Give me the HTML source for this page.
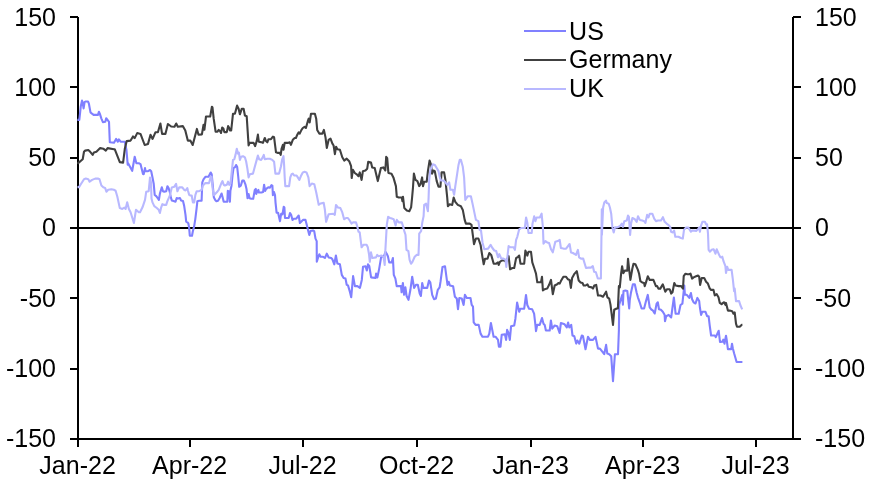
<!DOCTYPE html>
<html><head><meta charset="utf-8"><style>
html,body{margin:0;padding:0;background:#fff;overflow:hidden;}
svg{display:block;will-change:transform;}
text{font-family:"Liberation Sans", Arial, sans-serif;font-size:25px;fill:#000;}
</style></head><body>
<svg width="871" height="482" viewBox="0 0 871 482">
<g fill="#000" stroke="none">
<rect x="77" y="17" width="2" height="423"/>
<rect x="792" y="17" width="2" height="423"/>
<rect x="77" y="438" width="717" height="2"/>
<rect x="79" y="227" width="713" height="2"/>
<rect x="70" y="16" width="8" height="2"/>
<rect x="793" y="16" width="8" height="2"/>
<rect x="70" y="86" width="8" height="2"/>
<rect x="793" y="86" width="8" height="2"/>
<rect x="70" y="157" width="8" height="2"/>
<rect x="793" y="157" width="8" height="2"/>
<rect x="70" y="227" width="8" height="2"/>
<rect x="793" y="227" width="8" height="2"/>
<rect x="70" y="297" width="8" height="2"/>
<rect x="793" y="297" width="8" height="2"/>
<rect x="70" y="368" width="8" height="2"/>
<rect x="793" y="368" width="8" height="2"/>
<rect x="70" y="438" width="8" height="2"/>
<rect x="793" y="438" width="8" height="2"/>
<rect x="77" y="440" width="2" height="7"/>
<rect x="189" y="440" width="2" height="7"/>
<rect x="302" y="440" width="2" height="7"/>
<rect x="416" y="440" width="2" height="7"/>
<rect x="530" y="440" width="2" height="7"/>
<rect x="642" y="440" width="2" height="7"/>
<rect x="755" y="440" width="2" height="7"/>

</g>
<g fill="none" stroke-linejoin="round" stroke-linecap="butt">
<polyline points="77.4,119.9 79.3,119.9 80.2,111.8 80.8,106.2 82.0,100.6 82.4,101.8 83.6,108.4 84.6,102.2 85.5,101.5 88.0,101.5 88.9,103.7 90.5,112.4 92.0,113.7 93.6,114.9 98.0,114.9 98.9,111.8 99.8,113.7 101.4,118.6 102.9,122.1 105.3,121.8 106.2,118.2 109.0,121.8 109.8,142.2 114.0,142.7 116.1,138.9 117.8,141.7 118.9,139.4 120.6,141.7 124.8,141.7 126.4,149.7 127.7,164.6 128.1,163.3 132.2,170.8 134.7,156.7 136.4,163.3 138.8,163.3 140.5,164.1 143.0,174.1 143.7,174.3 145.0,168.1 145.6,171.2 148.1,171.2 150.0,170.0 151.2,171.2 152.5,177.5 153.7,183.7 154.7,194.9 156.2,196.1 158.1,198.6 158.9,199.9 159.9,193.6 161.8,187.2 163.0,191.2 164.3,191.8 166.2,191.2 167.4,186.2 168.6,188.0 169.9,192.4 170.5,196.1 171.8,200.5 173.6,201.1 175.5,201.7 176.7,198.0 178.0,198.6 179.9,198.0 181.1,200.5 183.0,201.1 184.2,206.1 185.5,214.8 186.2,221.6 187.4,222.4 188.3,223.2 189.1,227.4 189.8,235.7 192.0,235.7 192.8,231.5 194.1,226.6 195.3,219.1 196.6,208.3 197.4,201.2 199.1,200.8 201.6,200.8 202.3,182.4 203.5,179.3 205.4,176.8 208.5,176.8 210.7,172.5 211.7,174.3 212.8,185.7 213.8,197.2 215.4,200.3 216.4,201.3 218.0,200.8 219.5,198.2 221.6,193.5 222.6,197.2 223.7,201.8 225.7,201.8 227.3,201.8 227.8,190.9 228.9,191.5 229.9,201.8 230.4,190.9 231.5,185.7 232.5,175.4 233.5,168.1 235.1,167.1 236.1,165.0 237.2,167.1 238.2,176.4 239.2,186.8 240.8,185.7 242.3,180.6 243.9,180.6 245.5,184.7 246.5,188.9 247.5,198.2 248.6,194.0 249.6,198.2 251.2,198.7 253.2,198.7 254.8,189.9 255.8,188.9 256.3,194.0 257.4,190.9 258.4,189.9 258.9,192.5 261.5,192.5 263.1,192.0 264.1,184.7 265.2,190.9 266.2,188.9 268.3,187.3 269.8,187.8 271.4,185.2 272.4,185.7 272.9,195.1 274.0,192.0 275.0,195.1 275.5,202.3 276.6,212.7 278.1,212.7 280.0,221.2 281.2,213.7 282.5,214.3 283.7,206.8 284.4,207.5 285.0,218.0 288.7,218.0 290.0,213.1 291.2,214.9 292.5,219.9 293.7,218.7 296.2,218.7 298.7,215.5 299.9,223.0 301.2,221.8 303.0,219.9 305.5,219.9 306.8,224.9 308.0,229.9 309.3,234.9 310.5,231.1 313.0,230.5 314.2,231.1 315.5,238.6 316.7,241.1 316.8,261.8 318.1,257.4 319.3,254.3 320.6,256.8 323.1,256.8 324.9,258.0 326.8,253.7 328.7,257.4 331.2,258.0 332.4,259.3 334.3,264.3 335.9,255.5 337.4,263.6 339.9,264.3 341.8,274.9 343.6,278.0 345.5,278.6 346.7,284.8 348.0,285.4 350.0,292.3 351.2,297.3 353.1,276.1 354.9,286.1 357.4,286.1 359.9,287.9 361.8,279.9 363.0,266.8 365.5,266.2 366.8,270.5 368.0,264.3 369.3,266.2 371.1,277.4 375.5,278.0 376.1,273.6 377.4,277.4 379.2,268.6 381.1,257.4 384.2,255.6 385.5,251.8 386.7,253.7 387.9,256.2 389.2,262.4 391.7,262.4 392.9,258.1 393.8,274.9 395.4,278.6 396.7,286.1 401.0,286.1 401.6,292.3 402.9,283.0 404.1,294.8 405.4,287.3 406.6,296.0 408.5,299.8 410.4,289.8 412.2,276.7 414.1,287.9 416.0,284.8 417.8,284.8 419.7,293.5 420.9,296.0 422.2,283.0 423.4,287.9 427.2,287.9 429.0,280.5 430.3,282.3 432.2,294.8 434.0,299.2 435.9,298.5 437.8,289.8 439.6,287.3 440.6,281.2 442.5,266.9 445.0,266.2 447.5,284.9 448.7,281.8 449.9,285.5 453.1,286.2 454.9,296.8 456.8,298.6 458.0,309.2 459.3,298.0 461.8,298.6 463.6,304.9 464.9,294.9 466.8,298.0 470.5,298.0 471.7,304.9 473.0,306.7 473.7,322.4 475.6,324.9 478.7,324.9 480.6,333.6 482.4,336.7 488.0,336.7 489.3,333.6 490.9,323.0 493.0,333.6 493.6,336.7 495.5,336.7 498.0,339.9 498.9,346.7 500.5,346.7 501.7,334.9 504.9,334.2 506.1,339.9 507.1,329.9 508.3,332.4 509.8,339.9 511.1,326.2 514.2,325.5 515.4,318.7 517.1,302.5 519.2,311.8 520.4,308.7 524.2,308.7 526.0,295.0 527.3,305.0 529.1,308.7 532.2,309.3 534.1,313.7 535.4,324.9 536.0,331.1 537.2,324.9 539.7,324.9 542.0,318.1 543.5,323.7 544.7,324.9 545.9,330.5 549.7,330.5 550.9,320.5 552.2,328.6 554.7,325.5 557.2,326.2 559.6,333.0 560.9,323.0 564.6,324.3 566.8,327.4 568.1,322.5 569.3,327.4 571.2,324.9 572.5,335.5 574.3,336.2 576.2,343.6 577.4,340.5 579.3,343.6 581.8,335.5 583.0,336.2 585.5,349.2 588.0,336.8 589.9,339.9 593.0,339.9 595.5,336.8 598.0,348.6 599.9,348.6 602.3,351.7 604.2,354.2 606.1,344.9 607.3,353.6 609.2,354.2 611.2,356.2 613.0,381.1 614.9,354.3 618.0,354.3 618.9,330.0 619.2,304.8 621.1,298.6 622.3,294.9 622.9,304.8 623.5,291.1 625.4,290.5 627.3,291.1 629.2,308.5 629.8,299.8 631.0,292.4 632.9,284.3 634.8,284.3 636.6,292.4 637.9,297.3 639.7,302.3 641.6,308.5 644.1,308.5 646.0,301.1 647.8,294.9 649.7,307.3 651.6,309.8 652.8,310.4 654.7,313.5 656.6,303.6 657.8,302.3 659.0,309.2 660.9,309.8 662.8,311.7 664.6,314.8 665.0,321.2 666.2,316.2 668.7,314.9 671.2,317.4 672.5,307.5 673.9,297.5 675.6,313.7 678.7,313.7 680.5,305.0 682.4,303.7 684.3,285.5 684.9,294.8 686.8,294.8 689.3,297.9 690.9,293.0 692.1,299.2 693.6,302.3 695.5,303.5 697.4,297.9 699.2,301.1 699.9,307.5 701.1,314.9 702.3,311.8 705.5,311.8 707.1,316.2 708.6,316.2 709.8,326.1 711.1,335.5 714.8,335.5 715.8,337.1 717.1,334.2 718.7,330.8 720.0,342.0 722.5,341.6 723.3,339.6 724.5,343.7 725.0,340.8 726.0,335.8 726.6,339.1 727.9,349.1 731.2,349.1 732.0,343.7 732.8,348.3 734.1,353.3 736.6,362.0 742.4,362.0" stroke="#8080ff" stroke-width="2.1"/>
<polyline points="77.5,163.7 79.0,162.4 82.7,159.3 84.0,151.8 85.2,150.6 88.3,150.0 90.2,151.8 92.7,154.9 93.9,152.5 96.4,151.8 100.2,148.1 103.3,148.7 105.8,150.6 107.6,148.1 113.9,149.3 114.8,149.3 119.8,162.1 123.1,162.6 124.8,148.8 126.7,141.1 130.6,140.6 133.0,136.4 134.7,138.1 137.2,133.1 140.5,133.9 144.7,145.0 148.0,143.9 150.5,134.8 152.6,138.9 155.4,132.3 157.9,132.3 160.4,123.5 162.1,133.9 165.4,133.9 167.9,124.0 171.2,126.5 174.5,126.8 176.2,123.5 177.8,126.8 182.8,126.1 185.3,130.6 187.8,140.6 190.3,140.6 192.7,145.0 196.9,128.9 198.5,134.8 201.9,134.4 203.5,124.8 204.4,129.8 206.0,116.5 210.2,116.5 211.9,106.8 212.5,107.5 213.7,118.7 215.6,131.7 217.5,131.7 218.7,129.9 220.0,131.1 221.0,133.0 222.2,127.6 223.4,128.6 224.3,132.1 226.8,132.1 228.1,126.1 229.3,128.0 229.9,130.5 231.2,130.5 233.0,113.7 234.9,113.7 237.1,105.6 238.6,108.7 239.9,114.3 241.8,108.7 243.6,108.7 244.9,115.5 246.7,116.2 248.6,145.4 249.6,142.9 253.6,142.9 255.1,146.1 256.7,141.1 257.9,134.6 258.8,141.7 261.1,142.1 262.9,142.9 264.8,138.0 266.0,141.1 267.3,142.3 268.5,139.2 271.0,139.2 272.9,136.7 274.1,137.3 276.0,152.3 277.9,152.9 279.7,152.9 280.7,154.8 281.6,148.5 282.9,144.8 283.5,149.8 284.7,142.9 287.8,142.9 289.7,142.3 290.9,144.8 292.8,139.8 294.7,138.0 295.9,138.0 297.2,134.9 298.7,132.4 299.7,133.6 301.5,129.9 302.8,128.0 304.6,126.8 305.9,128.0 307.8,121.2 308.7,118.7 309.7,122.4 311.0,113.7 314.9,113.7 316.2,118.7 317.2,129.9 319.3,133.6 322.4,133.6 323.9,129.9 325.5,137.4 326.8,147.9 328.6,139.9 330.5,138.6 332.4,143.6 333.6,145.5 334.9,154.2 336.1,146.7 337.4,149.2 339.9,149.8 342.3,157.3 344.2,160.6 346.7,158.7 349.2,161.2 351.1,166.2 351.7,178.0 352.9,169.9 354.8,173.0 356.7,174.3 358.5,176.2 359.8,172.4 361.6,179.9 362.9,171.2 365.4,170.5 367.2,168.7 368.2,161.8 371.0,162.5 372.2,167.4 374.7,168.1 377.8,181.1 380.9,168.1 383.4,167.4 385.3,170.5 386.2,156.8 387.2,158.1 388.4,173.0 391.5,173.7 393.4,177.4 395.9,186.1 396.8,196.8 398.7,197.5 401.8,197.5 402.4,201.2 403.0,196.8 404.3,208.0 406.8,210.5 409.3,211.2 411.1,207.4 412.1,197.5 413.0,187.3 413.9,173.6 415.5,179.9 417.4,181.1 419.2,186.1 420.5,184.2 422.1,177.4 423.0,186.1 424.2,181.7 426.7,181.7 427.9,171.1 429.6,160.5 431.1,164.9 432.1,173.6 433.5,170.5 434.8,171.1 436.7,181.1 438.5,186.7 440.4,186.7 441.6,172.4 444.1,172.4 445.4,179.9 447.2,197.3 447.9,206.2 449.7,204.3 452.2,204.9 453.7,197.5 455.3,201.8 457.8,204.9 460.9,206.2 462.8,209.9 464.7,219.9 465.9,223.6 469.7,223.6 471.5,224.9 472.8,234.8 474.0,244.2 475.9,238.5 478.4,238.5 480.6,245.0 482.5,257.4 483.7,264.3 485.0,258.7 487.5,258.7 489.3,253.1 491.2,254.9 493.7,263.7 496.2,263.7 498.0,262.4 498.7,264.9 499.9,261.8 501.8,260.5 504.3,260.5 506.1,261.8 508.6,256.2 510.1,269.3 512.4,268.0 514.2,268.0 516.1,258.1 518.0,256.8 519.2,255.6 520.5,263.7 524.2,263.7 525.4,250.6 527.3,255.6 528.5,251.8 531.0,251.8 532.3,262.4 534.2,268.0 536.0,273.6 537.3,282.3 541.0,282.3 542.0,276.7 542.9,290.4 544.7,289.2 547.2,288.6 549.1,284.8 551.0,279.9 552.8,294.2 554.7,285.5 557.2,284.2 558.4,283.0 559.7,283.6 560.9,281.1 563.4,276.7 565.9,276.7 567.8,279.2 569.6,279.9 570.9,287.9 572.1,278.0 574.6,273.6 576.8,271.2 578.7,280.5 580.6,282.4 582.5,283.0 583.7,285.5 585.6,285.5 587.4,284.3 588.7,286.8 591.8,287.4 593.0,288.6 594.3,285.5 596.2,284.9 598.0,295.5 600.5,295.5 603.0,296.7 606.1,291.7 607.4,297.3 609.2,298.6 610.5,304.8 613.0,324.9 614.2,309.8 616.7,308.5 617.9,308.5 618.9,286.1 619.8,287.4 621.1,273.7 622.1,266.2 623.3,273.1 624.8,270.6 627.3,270.6 628.0,258.7 629.2,269.9 630.4,279.9 632.3,268.7 633.5,263.7 635.4,264.3 637.9,269.9 639.1,273.7 640.4,281.2 642.2,282.4 644.1,283.0 644.7,286.1 646.0,282.4 647.8,276.2 649.7,279.9 653.4,279.9 655.9,286.1 657.2,286.1 658.4,288.6 660.3,288.6 662.8,284.3 665.3,291.7 667.1,289.2 669.6,289.2 670.0,289.9 671.2,293.6 672.5,292.3 674.3,283.0 675.6,285.5 678.7,286.1 681.2,286.1 683.0,288.6 683.7,276.2 685.5,273.7 687.4,274.3 689.3,274.3 690.5,273.7 692.1,278.6 693.6,277.4 696.1,276.2 698.0,275.5 699.2,276.8 700.1,284.9 701.7,278.0 704.2,278.0 706.1,281.8 707.9,283.6 709.8,288.6 711.1,289.9 713.5,289.9 714.8,295.5 716.7,294.2 718.5,297.3 719.8,302.9 721.6,304.2 722.9,302.9 724.1,302.3 725.4,304.8 726.0,302.9 727.9,310.6 729.7,310.6 732.2,311.2 733.5,313.7 734.7,312.4 736.0,323.6 737.0,326.8 739.7,326.8 741.6,324.9 742.4,324.9" stroke="#404040" stroke-width="2.1"/>
<polyline points="77.5,187.1 79.0,187.1 80.8,184.2 84.0,179.2 85.8,178.6 88.3,179.2 89.6,181.7 92.1,179.9 95.2,178.6 98.3,178.6 99.5,179.2 101.4,185.5 103.3,187.3 105.1,187.9 106.4,191.7 108.2,189.8 111.4,189.2 113.9,189.8 115.6,190.7 117.3,196.5 119.8,208.1 122.3,208.9 124.4,207.7 125.6,208.9 127.2,202.3 128.9,208.9 130.6,212.2 133.9,223.0 136.0,209.7 138.8,212.2 140.0,212.3 142.5,207.3 145.0,199.9 146.2,191.8 148.7,191.2 150.0,177.5 151.0,182.4 151.5,198.6 152.5,202.4 154.3,206.1 156.8,208.0 158.7,209.8 159.9,212.9 161.2,207.3 162.4,204.2 164.3,204.9 166.2,204.9 167.4,201.1 169.9,195.5 171.8,187.4 174.2,186.8 176.1,183.9 177.4,191.2 179.2,187.4 182.3,187.4 184.2,189.9 185.5,190.5 187.3,188.0 187.9,190.5 189.2,194.9 190.4,195.5 191.7,195.5 192.9,202.4 194.2,202.4 195.4,194.9 196.7,191.2 199.2,191.2 201.6,189.9 202.9,185.5 205.4,183.1 209.1,183.1 210.7,176.8 211.6,176.8 212.2,184.9 213.5,194.9 214.4,194.8 216.8,192.3 218.7,189.8 221.2,183.6 222.5,181.1 223.7,184.8 224.9,185.5 226.8,184.8 228.1,181.7 229.3,184.8 230.5,183.6 231.8,171.1 233.0,159.9 234.3,159.3 235.5,154.9 236.8,148.7 238.0,153.7 238.9,152.5 239.9,159.9 241.1,156.8 243.0,156.2 244.9,157.4 246.1,161.2 247.4,168.6 248.6,177.4 249.9,174.2 253.0,173.6 254.8,166.8 256.7,159.9 257.9,155.6 259.2,159.3 261.1,159.9 262.3,158.1 263.8,154.9 264.8,159.3 267.3,158.7 269.8,158.7 272.3,159.9 274.1,161.8 275.4,173.6 279.1,173.6 281.0,166.2 282.2,159.3 283.5,156.2 284.1,164.9 284.7,177.4 285.3,186.1 289.1,186.1 290.3,177.4 291.6,174.2 292.8,173.6 294.1,175.5 296.6,175.5 297.8,177.4 299.4,179.9 300.9,176.1 302.8,172.4 304.6,171.8 306.5,172.4 308.4,177.4 309.6,186.1 311.8,183.6 314.3,184.2 316.2,192.3 318.7,204.8 320.5,203.5 323.7,202.9 324.9,209.8 326.1,221.8 328.6,214.3 333.5,213.7 334.8,214.9 336.0,205.0 337.9,207.5 340.4,208.1 342.3,212.4 344.1,219.3 346.0,218.0 347.9,218.0 349.7,220.5 351.6,223.6 352.9,222.4 356.0,222.4 357.2,226.1 358.5,231.7 359.7,232.4 361.6,247.3 363.4,244.8 366.6,244.8 367.8,247.3 369.0,254.2 369.8,261.8 371.0,252.4 372.3,258.0 376.0,257.4 377.2,254.9 378.5,256.2 381.6,255.5 383.5,256.8 384.7,264.9 385.3,251.2 386.8,224.9 388.1,216.8 390.0,218.0 391.8,218.6 393.7,219.2 395.6,225.5 396.8,219.9 398.7,222.4 401.8,222.4 403.0,226.1 404.3,231.1 405.5,234.8 406.5,249.9 408.4,251.2 409.6,259.9 411.0,263.7 412.2,262.4 414.7,256.8 416.6,254.9 418.5,254.9 419.1,240.0 419.2,233.6 421.1,231.1 422.3,222.4 423.6,216.1 424.2,204.9 426.1,203.7 427.9,211.2 428.6,197.5 429.2,179.9 430.4,169.9 432.9,164.3 434.8,164.9 436.7,168.0 438.5,171.1 439.8,177.4 441.0,180.5 443.5,180.5 445.4,182.3 447.2,184.8 449.1,182.3 450.4,189.8 452.9,189.8 454.1,194.8 455.3,186.1 457.2,173.6 458.5,164.9 459.7,159.9 460.9,159.9 462.8,166.8 464.1,177.4 465.3,199.9 467.8,196.2 470.9,196.2 472.8,204.9 474.6,213.6 475.9,219.9 478.4,221.1 479.6,229.8 481.0,230.5 482.5,242.4 484.3,249.2 488.1,248.6 490.6,244.9 492.4,248.0 494.3,250.5 496.2,251.1 498.0,257.3 499.3,254.2 501.2,258.5 503.0,258.5 505.5,259.8 506.3,267.0 508.6,246.1 510.5,247.3 513.6,247.3 514.9,249.8 516.1,239.9 517.3,236.8 519.2,229.3 521.1,228.0 524.8,228.0 526.1,217.5 527.3,222.4 528.5,233.0 531.7,233.0 532.5,223.7 534.2,216.2 535.4,221.2 536.6,217.5 539.8,217.5 541.6,213.7 542.9,227.4 543.5,243.6 545.4,241.1 547.2,242.4 549.1,243.0 551.0,249.2 552.8,252.3 555.3,241.7 557.8,241.1 559.7,239.9 560.9,248.0 563.4,248.6 566.1,248.7 569.6,244.0 571.0,252.4 572.9,253.0 576.0,254.9 577.9,249.9 579.1,257.4 581.0,258.6 583.2,258.6 586.0,268.0 588.5,267.6 590.9,267.6 592.8,266.1 594.1,271.7 595.9,272.3 597.8,278.5 600.9,278.5 601.8,209.3 601.9,235.0 603.1,207.5 604.3,202.5 606.0,200.6 606.8,203.1 608.7,203.7 609.9,207.5 611.2,213.7 612.4,227.4 613.7,232.4 614.9,227.4 616.8,227.4 618.7,226.8 620.5,225.5 621.8,223.6 623.0,226.8 624.3,221.2 626.8,220.5 628.0,215.5 628.9,216.8 630.1,234.9 631.1,223.6 632.4,218.0 634.9,219.3 636.7,221.8 638.0,216.2 639.8,219.9 642.3,220.5 644.2,221.2 645.4,223.0 647.1,214.9 648.5,217.4 649.8,213.7 652.3,213.7 654.2,218.7 656.0,221.2 657.9,220.5 661.0,220.5 662.9,217.2 664.7,221.8 666.6,223.6 669.1,225.5 670.3,227.4 671.0,231.7 672.8,232.4 674.1,230.5 675.3,236.7 678.4,236.7 680.9,238.0 682.8,238.6 684.0,229.9 685.9,227.6 688.4,227.6 690.9,231.7 692.1,230.5 696.2,230.9 698.0,229.3 699.3,227.4 699.9,231.8 701.1,225.5 702.4,221.8 704.9,221.8 706.1,224.3 707.1,224.3 708.0,233.6 708.6,249.8 709.9,251.7 711.7,249.8 713.6,249.2 715.4,253.7 715.5,253.6 716.7,249.2 717.3,250.6 718.6,253.6 719.2,255.0 720.4,257.3 721.6,257.5 722.3,256.7 723.5,261.2 725.4,266.2 726.0,273.0 727.2,266.8 728.2,269.9 731.6,269.9 732.9,279.9 734.1,291.1 734.7,288.6 736.0,301.1 739.1,301.1 740.3,305.0 742.2,309.3" stroke="#b8b8ff" stroke-width="2.1"/>
</g>

<text x="56" y="26" text-anchor="end">150</text>
<text x="56" y="96" text-anchor="end">100</text>
<text x="56" y="166" text-anchor="end">50</text>
<text x="56" y="236" text-anchor="end">0</text>
<text x="56" y="307" text-anchor="end">-50</text>
<text x="56" y="377" text-anchor="end">-100</text>
<text x="56" y="447" text-anchor="end">-150</text>
<text x="77.6" y="474" text-anchor="middle">Jan-22</text>
<text x="189.6" y="474" text-anchor="middle">Apr-22</text>
<text x="302.6" y="474" text-anchor="middle">Jul-22</text>
<text x="416.6" y="474" text-anchor="middle">Oct-22</text>
<text x="530.6" y="474" text-anchor="middle">Jan-23</text>
<text x="642.6" y="474" text-anchor="middle">Apr-23</text>
<text x="755.6" y="474" text-anchor="middle">Jul-23</text>

<text x="815" y="26">150</text>
<text x="815" y="96">100</text>
<text x="815" y="166">50</text>
<text x="815" y="236">0</text>
<text x="815" y="307">-50</text>
<text x="815" y="377">-100</text>
<text x="815" y="447">-150</text>

<rect x="524" y="30" width="42" height="2" fill="#8080ff"/>
<rect x="524" y="59" width="42" height="2" fill="#404040"/>
<rect x="524" y="88" width="42" height="2" fill="#b8b8ff"/>
<text x="569.1" y="40">US</text>
<text x="569.1" y="68">Germany</text>
<text x="569.1" y="97">UK</text>
</svg>
</body></html>
